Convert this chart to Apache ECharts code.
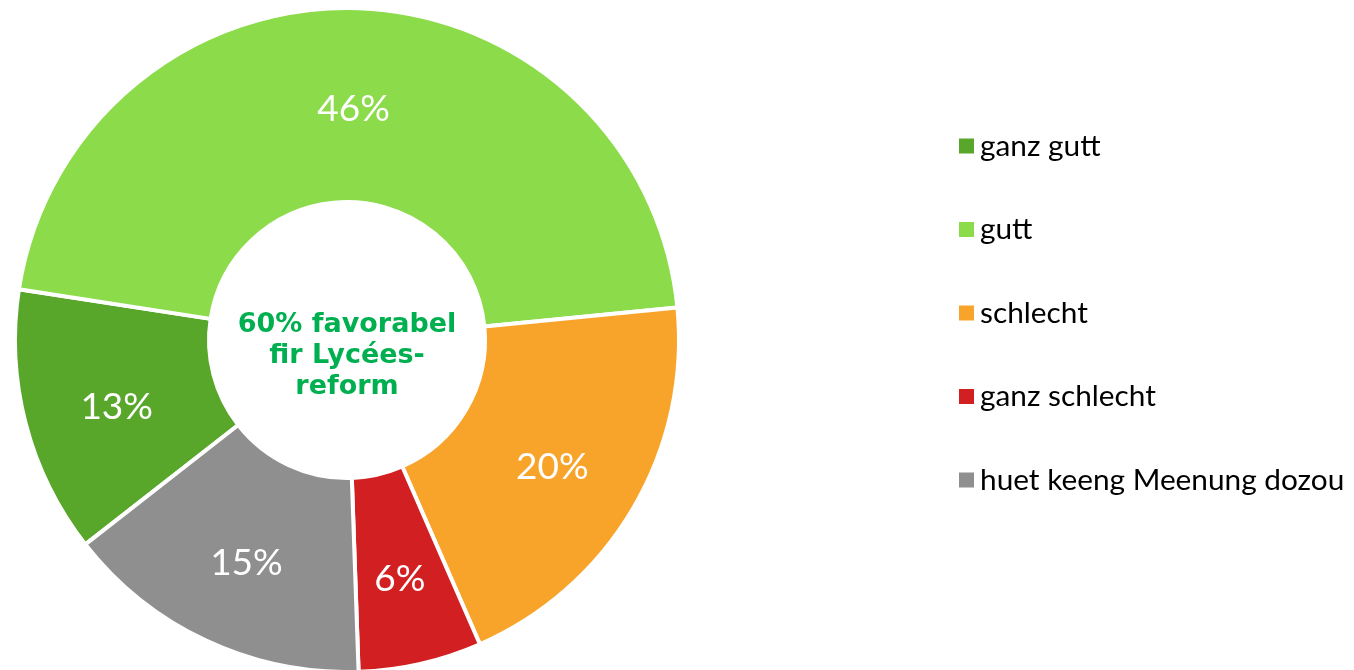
<!DOCTYPE html>
<html>
<head>
<meta charset="utf-8">
<script src="https://cdn.jsdelivr.net/npm/echarts@6/dist/echarts.min.js"></script>
<style>
html,body{margin:0;padding:0;background:#fff;}
#chart{width:1354px;height:670px;}
</style>
</head>
<body>
<div id="chart"></div>
<script>
const categories = ['ganz gutt', 'gutt', 'schlecht', 'ganz schlecht', 'huet keeng Meenung dozou'];
const values = [13, 46, 20, 6, 15];
const colors = ['#58A62A', '#8CDB4A', '#F8A42A', '#D21F21', '#8F8F8F'];
const centerText = '60% favorabel\nfir Lycées-\nreform';

const chart = echarts.init(document.getElementById('chart'), null, {renderer: 'canvas'});
chart.setOption({
  animation: false,
  backgroundColor: '#ffffff',
  color: colors,
  legend: {
    orient: 'vertical',
    left: 952,
    top: 123,
    padding: 5,
    itemWidth: 17,
    itemHeight: 17,
    itemGap: 47.5,
    icon: 'rect',
    data: categories,
    textStyle: {
      fontFamily: 'Lato',
      fontSize: 29.8,
      lineHeight: 30,
      padding: [6, 0, 0, 0],
      color: '#000'
    }
  },
  graphic: [{
    type: 'text',
    x: 347,
    y: 356,
    style: {
      text: centerText,
      x: 0, y: 0,
      textAlign: 'center',
      textVerticalAlign: 'middle',
      font: 'bold 27px "DejaVu Sans"',
      lineHeight: 31,
      fill: '#00B050'
    },
    z: 100
  }],
  series: [{
    type: 'pie',
    center: [347, 340],
    radius: [138, 332],
    startAngle: 218,
    clockwise: true,
    avoidLabelOverlap: false,
    itemStyle: {borderColor: '#ffffff', borderWidth: 4},
    label: {
      show: true,
      position: 'inside',
      formatter: '{c}%',
      color: '#ffffff',
      fontFamily: 'Lato',
      fontSize: 37
    },
    labelLayout: {dy: 7},
    labelLine: {show: false},
    emphasis: {disabled: true},
    data: categories.map((n, i) => ({name: n, value: values[i]}))
  }]
});
</script>
</body>
</html>
